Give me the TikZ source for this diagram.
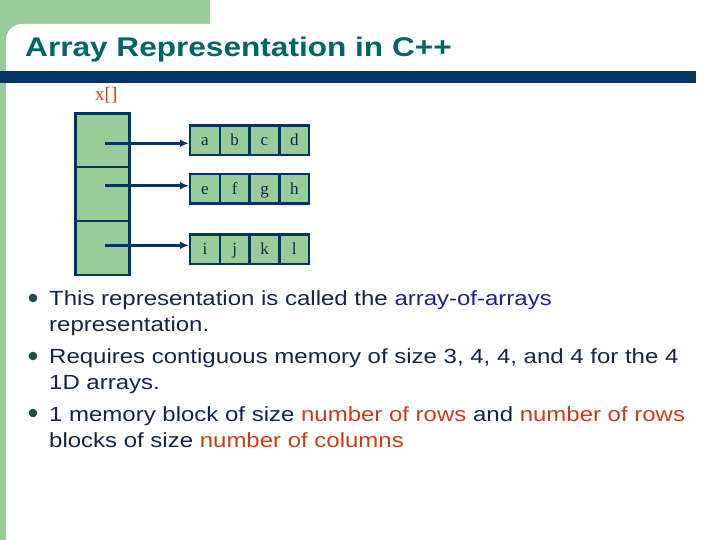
\documentclass[tikz,border=0pt]{standalone}
\usepackage{fontspec}
\setmainfont[FakeStretch=1.17]{Liberation Sans}
\newfontfamily\cellfont{Liberation Serif}
\usetikzlibrary{arrows.meta,positioning,calc}

\definecolor{slidegreen}{RGB}{153,204,153}
\definecolor{slidenavy}{RGB}{0,51,102}
\definecolor{titleteal}{RGB}{0,102,102}
\definecolor{bodyink}{RGB}{18,38,72}
\definecolor{hiblue}{RGB}{30,30,150}
\definecolor{hired}{RGB}{204,60,20}
\definecolor{bulletink}{RGB}{30,75,75}

\begin{document}
\begin{tikzpicture}[x=1pt, y=-1pt,
    ptrbox/.style={draw=slidenavy, line width=2.5pt, fill=slidegreen,
                   minimum width=53.6pt, minimum height=53.9pt, inner sep=0pt},
    cellbox/.style={draw=slidenavy, line width=2.5pt, fill=slidegreen,
                    minimum width=29.8pt, minimum height=29.5pt, inner sep=0pt,
                    text height=11pt, text depth=0pt, text=bodyink,
                    font=\cellfont\fontsize{17}{17}\selectfont},
    ptrarrow/.style={-{Latex[length=9pt, width=8pt]}, line width=2.5pt, slidenavy},
    bullettext/.style={anchor=base west, align=left, inner sep=0pt, text=bodyink,
                       font=\fontsize{20.5}{26}\selectfont},
]
\useasboundingbox (0,0) rectangle (720,540);

% Slide background
\fill[slidegreen] (0,0) rectangle (210,40);
\fill[slidegreen] (0,0) rectangle (6,540);
\fill[white] (6,540) [rounded corners=16pt] -- (6,24) [sharp corners] -- (720,24) -- (720,540) -- cycle;
\fill[slidenavy] (0,71) rectangle (696,83);

% Title
\node[anchor=base west, inner sep=0pt, text=titleteal,
      font=\bfseries\fontsize{27}{27}\selectfont] (title) at (25,57) {Array Representation in C++};

% Pointer array
\node[anchor=base west, inner sep=0pt, text=hired,
      font=\cellfont\fontsize{19}{19}\selectfont] (xname) at (95,101) {x[]};
\node[ptrbox] (p1) at (102.5,140.3) {};
\node[ptrbox] (p2) at (102.5,194.2) {};
\node[ptrbox] (p3) at (102.5,248.1) {};

% Row arrays
\foreach \row/\yy/\items in {1/140.5/{a,b,c,d}, 2/189/{e,f,g,h}, 3/249/{i,j,k,l}} {
    \foreach \ch [count=\col] in \items {
        \node[cellbox] (r\row c\col) at ({175.1+\col*29.8},\yy) {\ch};
    }
}

% Pointers
\coordinate (s1) at (105,143.3);
\coordinate (s2) at (105,185.7);
\coordinate (s3) at (105,245.3);
\foreach \row in {1,2,3} {
    \draw[ptrarrow] (s\row) -- (s\row -| r\row c1.west);
}

% Bullets
\foreach \yy in {298,356,413} {
    \fill[bulletink] (33,\yy) circle (4.3);
}
\node[bullettext] (b1) at (49,331)
    {This representation is called the \textcolor{hiblue}{array-of-arrays}\\representation.};
\node[bullettext] (b2) at (49,389)
    {Requires contiguous memory of size 3, 4, 4, and 4 for the 4\\1D arrays.};
\node[bullettext] (b3) at (49,447)
    {1 memory block of size \textcolor{hired}{number of rows} and \textcolor{hired}{number of rows}\\blocks of size \textcolor{hired}{number of columns}};
\end{tikzpicture}
\end{document}
